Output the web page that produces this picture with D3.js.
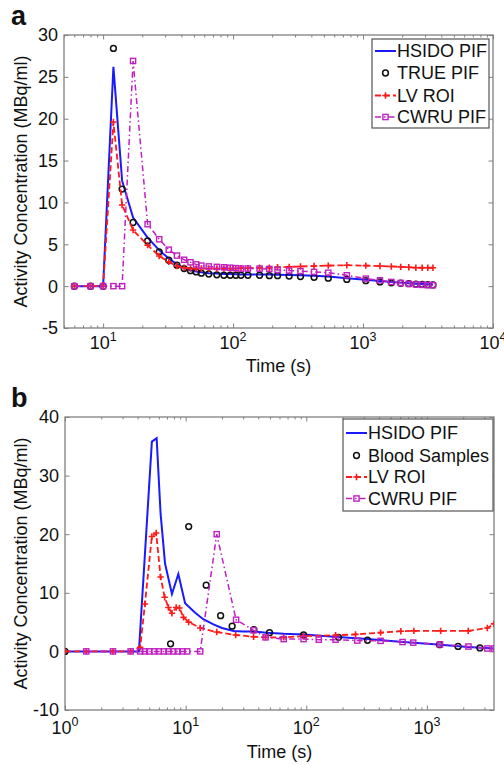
<!DOCTYPE html>
<html>
<head>
<title>PIF comparison</title>
<style>
  body, html { margin: 0; padding: 0; background: #fff; }
  svg { display: block; }
  text { font-family: "Liberation Sans", Arial, sans-serif; fill: #111; }
</style>
</head>
<body>
<svg id="svg" width="504" height="765"></svg>
<script src="https://d3js.org/d3.v7.min.js"></script>
<script>
// ---- panel a ----
const timesA = [6, 8, 10, 12, 14, 17, 22, 27, 32, 37, 42, 47, 52, 57, 65, 75, 85, 95, 105, 115,
  130, 160, 190, 220, 270, 330, 420, 540, 750, 1050, 1350, 1650, 1950, 2250, 2550, 2850, 3150, 3450]
const hsidoA = [0, 0, 0, 26.2, 12.6, 8.2, 5.8, 4.3, 3.3, 2.6, 2.15, 1.9, 1.75, 1.65, 1.55, 1.5, 1.45, 1.45, 1.42, 1.4,
  1.4, 1.4, 1.38, 1.36, 1.33, 1.3, 1.25, 1.15, 0.95, 0.75, 0.6, 0.5, 0.42, 0.36, 0.3, 0.27, 0.24, 0.22]
const trueA = [0, 0, 0, 28.4, 11.6, 7.6, 5.4, 4.1, 3.1, 2.5, 2.1, 1.85, 1.7, 1.55, 1.45, 1.35, 1.3, 1.3, 1.3, 1.3,
  1.3, 1.3, 1.25, 1.25, 1.2, 1.15, 1.05, 0.95, 0.8, 0.65, 0.5, 0.4, 0.35, 0.3, 0.25, 0.2, 0.18, 0.15]
const lvA = [0, 0, 0, 19.6, 9.7, 6.7, 4.9, 3.6, 2.9, 2.4, 2.2, 2.1, 2.1, 2.1, 2.1, 2.1, 2.1, 2.1, 2.1, 2.15,
  2.15, 2.2, 2.2, 2.25, 2.3, 2.35, 2.4, 2.45, 2.5, 2.45, 2.4, 2.35, 2.3, 2.25, 2.2, 2.2, 2.2, 2.2]
const cwruA = [0, 0, 0, 0, 0, 26.9, 7.4, 5.6, 4.35, 3.65, 3.15, 2.85, 2.6, 2.45, 2.35, 2.3, 2.25, 2.2, 2.15, 2.1,
  2.1, 2.1, 2.05, 1.95, 1.85, 1.8, 1.7, 1.6, 1.3, 0.9, 0.7, 0.5, 0.38, 0.28, 0.2, 0.15, 0.12, 0.12]
const legendA = ['HSIDO PIF', 'TRUE PIF', 'LV ROI', 'CWRU PIF']
const yTicksA = [-5, 0, 5, 10, 15, 20, 25, 30]

// ---- panel b ----
const hsidoBt = [1, 4.1, 5.25, 5.75, 6.2, 6.75, 7.7, 8.7, 9.9, 12, 14, 17, 20, 25, 30, 37, 47, 65, 95, 170,
  320, 600, 1150, 2200, 3600]
const hsidoB = [0, 0, 35.8, 36.4, 23.5, 15, 9.8, 13.2, 8.2, 6.6, 5.5, 4.6, 4.0, 3.5, 3.4, 3.4, 3.2, 3.0, 2.9, 2.5,
  2.1, 1.65, 1.2, 0.75, 0.5]
const bloodT = [1, 7.5, 10.6, 14.8, 19.5, 24.3, 36.8, 49.6, 95, 185, 322, 1275, 1812, 2750]
const bloodV = [0, 1.3, 21.3, 11.3, 6.1, 4.3, 3.7, 3.2, 2.8, 2.4, 1.9, 1.15, 0.85, 0.6]
const lvBt = [1, 1.5, 2.5, 3.5, 4.2, 4.6, 5.25, 5.7, 6.2, 6.7, 7.2, 7.7, 8.35, 8.9, 9.6, 10.6, 13.2, 18.1, 26, 36.6,
  46, 65, 95, 175, 256, 413, 608, 780, 1300, 2200, 3170, 3600]
const lvB = [0, 0, 0, 0, 0.7, 8.1, 19.6, 20.2, 12.7, 9.25, 7.5, 6.5, 7.5, 7.4, 5.8, 5.0, 4.0, 3.3, 2.8, 2.5,
  2.4, 2.4, 2.6, 2.75, 2.9, 3.2, 3.45, 3.5, 3.5, 3.5, 4.0, 4.7]
const cwruBt = [1.5, 2.5, 3.5, 4.2, 4.6, 5.0, 5.5, 6.0, 6.6, 7.2, 7.9, 8.6, 9.4, 10.3, 13.2, 18.1, 26.2, 36.6, 46, 65,
  95, 127, 175, 265, 413, 628, 770, 1285, 2210, 3170, 3600]
const cwruB = [0, 0, 0, 0, 0, 0, 0, 0, 0, 0, 0, 0, 0, 0, 0, 20, 5.4, 3.6, 2.4, 2.1,
  2.1, 2.0, 2.0, 1.85, 1.8, 1.6, 1.5, 1.2, 0.83, 0.5, 0.5]
const legendB = ['HSIDO PIF', 'Blood Samples', 'LV ROI', 'CWRU PIF']
const yTicksB = [-10, 0, 10, 20, 30, 40]

const BLUE = '#1a1aff', RED = '#ff1a1a', MAG = '#c020c0', AXIS = '#808080'
const zip = (t, v) => t.map((d, i) => [d, v[i]])

const svg = d3.select('#svg')

function marker(sel, type, color) {
  if (type === 'circle') {
    sel.append('circle').attr('r', 2.9).attr('fill', 'none').attr('stroke', '#111').attr('stroke-width', 1.5)
  } else if (type === 'plus') {
    sel.append('path').attr('d', 'M-3.2,0H3.2M0,-3.2V3.2').attr('stroke', color).attr('stroke-width', 1.6)
  } else if (type === 'square') {
    sel.append('rect').attr('x', -2.6).attr('y', -2.6).attr('width', 5.2).attr('height', 5.2)
      .attr('fill', 'none').attr('stroke', color).attr('stroke-width', 1.4)
  }
}

function drawPanel(cfg) {
  const { id, x, y, yTicks, xMajor, series, legend, letter } = cfg
  const [x0, x1] = x.range()
  const [yb, yt] = y.range()
  const g = svg.append('g')

  // minor log ticks
  const [d0, d1] = x.domain()
  const minor = []
  for (let n = Math.floor(Math.log10(d0)); n <= Math.ceil(Math.log10(d1)); n++) {
    for (let k = 2; k <= 9; k++) {
      const v = k * Math.pow(10, n)
      if (v >= d0 && v <= d1) minor.push(v)
    }
  }
  const styleAxis = a => {
    a.select('.domain').remove()
    a.selectAll('line').attr('stroke', AXIS)
  }
  g.append('g').attr('transform', `translate(0,${yb})`)
    .call(d3.axisBottom(x).tickValues(minor).tickSize(-2.5).tickFormat('')).call(styleAxis)
  g.append('g').attr('transform', `translate(0,${yb})`)
    .call(d3.axisBottom(x).tickValues(xMajor).tickSize(-4.5).tickFormat('')).call(styleAxis)
  g.append('g').attr('transform', `translate(0,${yt})`)
    .call(d3.axisTop(x).tickValues(minor).tickSize(-2.5).tickFormat('')).call(styleAxis)
  g.append('g').attr('transform', `translate(0,${yt})`)
    .call(d3.axisTop(x).tickValues(xMajor).tickSize(-4.5).tickFormat('')).call(styleAxis)
  g.append('g').attr('transform', `translate(${x0},0)`)
    .call(d3.axisLeft(y).tickValues(yTicks).tickSize(-4.5).tickFormat('')).call(styleAxis)
  g.append('g').attr('transform', `translate(${x1},0)`)
    .call(d3.axisRight(y).tickValues(yTicks).tickSize(-4.5).tickFormat('')).call(styleAxis)

  g.append('rect').attr('x', x0).attr('y', yt).attr('width', x1 - x0).attr('height', yb - yt)
    .attr('fill', 'none').attr('stroke', AXIS).attr('stroke-width', 1.3)

  // tick labels
  g.selectAll('.ylab').data(yTicks).enter().append('text')
    .attr('x', x0 - 6).attr('y', d => y(d)).attr('dy', '0.36em')
    .attr('text-anchor', 'end').attr('font-size', 18).text(d => d)
  const xl = g.selectAll('.xlab').data(xMajor).enter().append('text')
    .attr('x', d => x(d)).attr('y', cfg.tickLabelY).attr('text-anchor', 'middle').attr('font-size', 18)
  xl.append('tspan').text('10')
  xl.append('tspan').attr('font-size', 12.5).attr('dy', -8).text(d => Math.round(Math.log10(d)))

  g.append('text').attr('x', (x0 + x1) / 2).attr('y', cfg.xLabelY).attr('text-anchor', 'middle')
    .attr('font-size', 18).text('Time (s)')
  g.append('text').attr('transform', `translate(${cfg.yLabelX},${(yb + yt) / 2}) rotate(-90)`)
    .attr('text-anchor', 'middle').attr('dy', '0.36em').attr('font-size', 18)
    .text('Activity Concentration (MBq/ml)')
  g.append('text').attr('x', letter.x).attr('y', letter.y).attr('font-size', 27)
    .attr('font-weight', 'bold').text(letter.text)

  // data
  g.append('clipPath').attr('id', 'clip' + id).append('rect')
    .attr('x', x0).attr('y', yt).attr('width', x1 - x0).attr('height', yb - yt)
  const plot = g.append('g').attr('clip-path', `url(#clip${id})`)
  const line = d3.line().x(d => x(d[0])).y(d => y(d[1]))
  series.forEach(s => {
    if (s.line) {
      plot.append('path').datum(s.data).attr('d', line).attr('fill', 'none')
        .attr('stroke', s.color).attr('stroke-width', s.width)
        .attr('stroke-dasharray', s.dash || null)
    }
    if (s.marker) {
      plot.selectAll(null).data(s.data).enter().append('g')
        .attr('transform', d => `translate(${x(d[0])},${y(d[1])})`)
        .each(function () { marker(d3.select(this), s.marker, s.color) })
    }
  })

  // legend
  const lg = g.append('g')
  lg.append('rect').attr('x', legend.x).attr('y', legend.y).attr('width', legend.w).attr('height', legend.h)
    .attr('fill', '#fff').attr('stroke', '#555').attr('stroke-width', 1.2)
  series.forEach((s, i) => {
    const cy = legend.rows[i]
    const lx0 = legend.x + 3, lx1 = legend.x + 24, cx = (lx0 + lx1) / 2
    if (s.line) {
      lg.append('line').attr('x1', lx0).attr('x2', lx1).attr('y1', cy).attr('y2', cy)
        .attr('stroke', s.color).attr('stroke-width', s.width).attr('stroke-dasharray', s.dash || null)
    }
    if (s.marker) marker(lg.append('g').attr('transform', `translate(${cx},${cy})`), s.marker, s.color)
    lg.append('text').attr('x', legend.x + 25).attr('y', cy).attr('dy', '0.36em')
      .attr('font-size', 18).text(s.name)
  })
}

drawPanel({
  id: 'a',
  x: d3.scaleLog().domain([5, 10000]).range([64, 493]),
  y: d3.scaleLinear().domain([-5, 30]).range([328, 35]),
  yTicks: yTicksA,
  xMajor: [10, 100, 1000, 10000],
  tickLabelY: 349, xLabelY: 372, yLabelX: 21,
  letter: { text: 'a', x: 11, y: 25 },
  series: [
    { name: legendA[0], data: zip(timesA, hsidoA), line: true, color: BLUE, width: 2 },
    { name: legendA[1], data: zip(timesA, trueA), marker: 'circle', color: '#111' },
    { name: legendA[2], data: zip(timesA, lvA), line: true, color: RED, width: 1.8, dash: '6,3', marker: 'plus' },
    { name: legendA[3], data: zip(timesA, cwruA), line: true, color: MAG, width: 1.5, dash: '6,3,1.5,3', marker: 'square' }
  ],
  legend: { x: 372, y: 39, w: 117, h: 89, rows: [51, 73, 95.5, 117] }
})

drawPanel({
  id: 'b',
  x: d3.scaleLog().domain([1, 3600]).range([65, 494]),
  y: d3.scaleLinear().domain([-10, 40]).range([710, 417]),
  yTicks: yTicksB,
  xMajor: [1, 10, 100, 1000],
  tickLabelY: 734, xLabelY: 758, yLabelX: 21,
  letter: { text: 'b', x: 11, y: 407 },
  series: [
    { name: legendB[0], data: zip(hsidoBt, hsidoB), line: true, color: BLUE, width: 2 },
    { name: legendB[1], data: zip(bloodT, bloodV), marker: 'circle', color: '#111' },
    { name: legendB[2], data: zip(lvBt, lvB), line: true, color: RED, width: 1.8, dash: '6,3', marker: 'plus' },
    { name: legendB[3], data: zip(cwruBt, cwruB), line: true, color: MAG, width: 1.5, dash: '6,3,1.5,3', marker: 'square' }
  ],
  legend: { x: 343, y: 419, w: 150, h: 92, rows: [433, 455.5, 477, 498.5] }
})
</script>
</body>
</html>
